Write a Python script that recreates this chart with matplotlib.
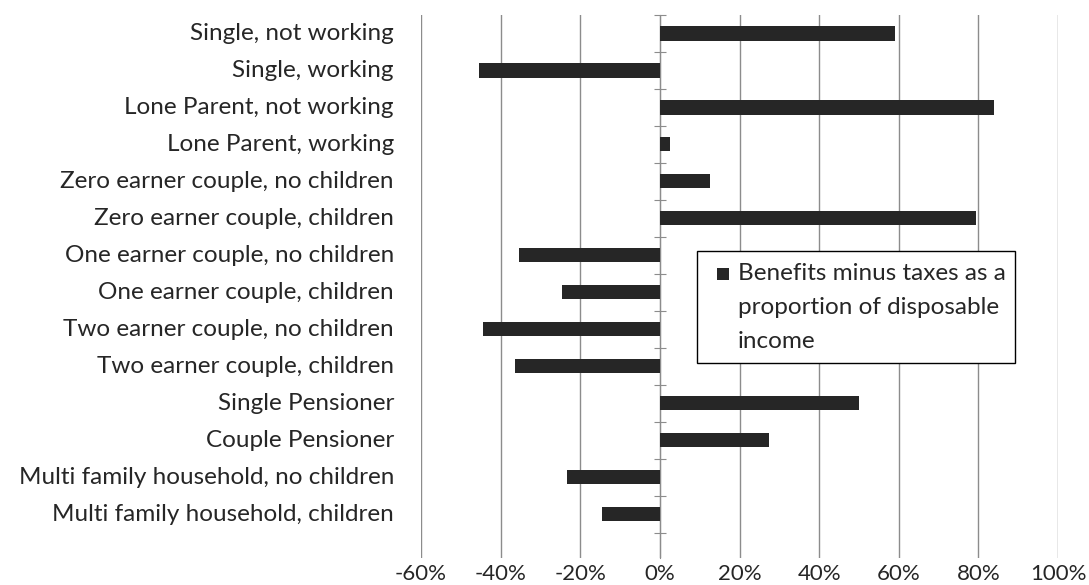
import matplotlib
matplotlib.use("Agg")
import matplotlib.pyplot as plt
from matplotlib.patches import Rectangle
from matplotlib.ticker import FuncFormatter

categories = ["Single, not working", "Single, working", "Lone Parent, not working",
              "Lone Parent, working", "Zero earner couple, no children",
              "Zero earner couple, children", "One earner couple, no children",
              "One earner couple, children", "Two earner couple, no children",
              "Two earner couple, children", "Single Pensioner", "Couple Pensioner",
              "Multi family household, no children", "Multi family household, children"]
values = [59, -45.5, 84, 2.5, 12.6, 79.5, -35.4, -24.6, -44.5, -36.4, 50, 27.4, -23.4, -14.6]
xticks = [-60, -40, -20, 0, 20, 40, 60, 80, 100]
legend_label = "Benefits minus taxes as a\nproportion of disposable\nincome"

plt.rcParams['font.family'] = ['Lato', 'DejaVu Sans']
FS = 17.5
W, H = 1089, 585
fig = plt.figure(figsize=(W/100, H/100), dpi=100)
ax = fig.add_axes([421/W, 1-558/H, (1058-421)/W, (558-15)/H])
n = len(categories)
ypos = list(range(n))
ax.barh(ypos, values, height=0.38, color='#262626', zorder=3)
ax.set_ylim(n - 0.5 + 0.68, -0.5)
ax.set_xlim(-60, 100)
ax.set_xticks(xticks)
ax.xaxis.set_major_formatter(FuncFormatter(lambda v, p: f"{int(v)}%"))
ax.grid(axis='x', color='#8c8c8c', linewidth=1, zorder=0)
for s in ['top', 'right', 'bottom']:
    ax.spines[s].set_visible(False)
ax.spines['left'].set_position(('data', 0))
ax.spines['left'].set_color('#8c8c8c')
ax.set_yticks([i - 0.5 for i in range(n+1)])
ax.set_yticklabels([])
ax.tick_params(axis='y', direction='inout', length=8, color='#8c8c8c')
for i, c in enumerate(categories):
    ax.text(-66.8, i, c, ha='right', va='center', fontsize=FS, color='#262626')
ax.tick_params(axis='x', length=0, pad=4, labelsize=16, colors='#262626')

x0, y0, x1, y1 = 697/W, 1-363/H, 1015/W, 1-251/H
fig.patches.append(Rectangle((x0, y0), x1-x0, y1-y0, transform=fig.transFigure,
                             facecolor='white', edgecolor='black', linewidth=1, zorder=5))
fig.patches.append(Rectangle((717/W, 1-280/H), 12/W, 12/H, transform=fig.transFigure,
                             facecolor='#262626', edgecolor='none', zorder=6))
fig.text(738/W, 1-263/H, legend_label, ha='left', va='top', fontsize=FS,
         color='#262626', linespacing=1.75, zorder=7)
fig.savefig("out.png", dpi=100)
